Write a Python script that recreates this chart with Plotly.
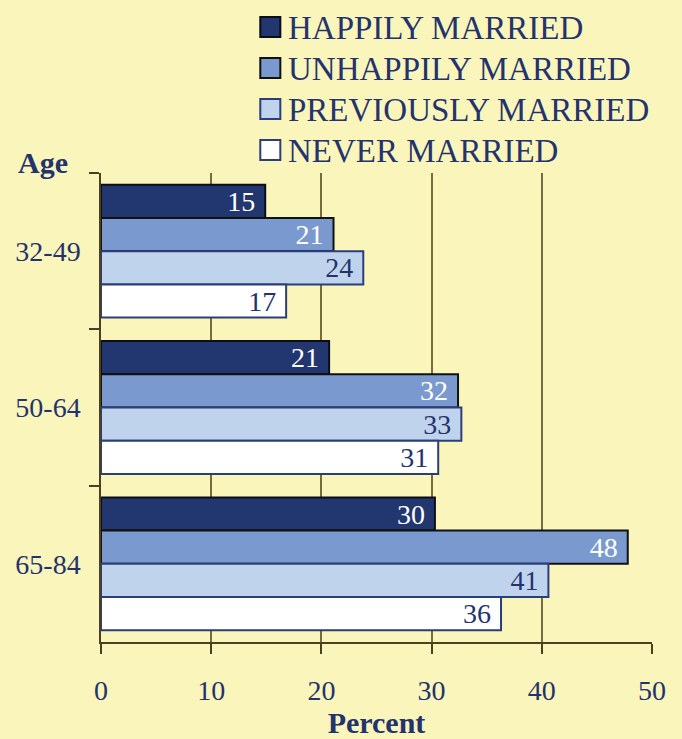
import plotly.graph_objects as go

ages = ["32-49", "50-64", "65-84"]
series_names = ["HAPPILY MARRIED", "UNHAPPILY MARRIED", "PREVIOUSLY MARRIED", "NEVER MARRIED"]
happily = [14.9, 20.7, 30.3]
unhappily = [21.1, 32.4, 47.8]
previously = [23.8, 32.7, 40.6]
never = [16.8, 30.6, 36.3]
x_ticks = [0, 10, 20, 30, 40, 50]

values = [happily, unhappily, previously, never]
fills = ["#22366f", "#7a9acf", "#bfd3ec", "#ffffff"]
edges = ["#0d0d1a", "#111111", "#2b3d7a", "#2b3d7a"]
text_colors = ["#ffffff", "#ffffff", "#24336e", "#24336e"]

NAVY = "#24336e"
FONT = "Liberation Serif"
BG = "#faf6bb"

fig = go.Figure()
for name, vals, fc, ec, tc in zip(series_names, values, fills, edges, text_colors):
    fig.add_trace(go.Bar(
        y=ages, x=vals, orientation="h", name=name, showlegend=False,
        marker=dict(color=fc, line=dict(color=ec, width=2)),
        texttemplate="%{x:.0f} ", textposition="inside", insidetextanchor="end",
        constraintext="none", textangle=0,
        textfont=dict(family=FONT, size=28, color=tc),
        hoverinfo="skip",
    ))

# Legend drawn as paper-positioned swatches + labels
PLOT_TOP, PLOT_H, PLOT_L, PLOT_W = 173, 469, 101, 550
shapes = []
annotations = []
for i, (name, fc, ec) in enumerate(zip(series_names, fills, edges)):
    cy = 27 + i * 41
    y0 = 1 + (PLOT_TOP - (cy + 10)) / PLOT_H
    y1 = 1 + (PLOT_TOP - (cy - 10)) / PLOT_H
    x0 = (260 - PLOT_L) / PLOT_W
    x1 = (280 - PLOT_L) / PLOT_W
    shapes.append(dict(type="rect", xref="paper", yref="paper", x0=x0, x1=x1, y0=y0, y1=y1,
                       fillcolor=fc, line=dict(color=ec, width=2)))
    annotations.append(dict(text=name, xref="paper", yref="paper",
                            x=(286 - PLOT_L) / PLOT_W, y=1 + (PLOT_TOP - (cy + 1)) / PLOT_H,
                            xanchor="left", yanchor="middle", showarrow=False,
                            font=dict(family=FONT, size=33, color=NAVY)))
annotations.append(dict(text="<b>Age</b>", xref="paper", yref="paper", x=(43 - PLOT_L) / PLOT_W,
                        y=1 + (PLOT_TOP - 163) / PLOT_H,
                        xanchor="center", yanchor="middle", showarrow=False,
                        font=dict(family=FONT, size=30, color=NAVY)))

fig.update_layout(
    width=682, height=739,
    paper_bgcolor=BG, plot_bgcolor=BG,
    margin=dict(l=101, r=30, t=173, b=97),
    barmode="group", bargap=0.15, bargroupgap=0,
    font=dict(family=FONT, color=NAVY),
    showlegend=False,
    xaxis=dict(range=[0, 50], tickvals=x_ticks, ticktext=[str(v) for v in x_ticks],
               automargin=False,
               showgrid=True, gridcolor="#7a6a40", gridwidth=1.5,
               showline=True, linecolor="#4d4020", linewidth=1.5,
               ticks="outside", ticklen=10, tickcolor="#4d4020", tickwidth=1.5,
               tickfont=dict(family=FONT, size=28, color=NAVY),
               ticklabelstandoff=13, zeroline=False,
               title=dict(text="<b>Percent</b>", font=dict(family=FONT, size=30, color=NAVY), standoff=4)),
    yaxis=dict(autorange="reversed", showgrid=False, automargin=False,
               showline=True, linecolor="#4d4020", linewidth=1.5,
               ticks="outside", tickson="boundaries", ticklen=10, tickcolor="#4d4020", tickwidth=1.5,
               tickfont=dict(family=FONT, size=28, color=NAVY),
               ticklabelstandoff=13),
    shapes=shapes,
    annotations=annotations,
)

fig.write_html("out.html", config={"displayModeBar": False},
               post_script="document.body.style.margin='0';document.body.style.background='%s';" % BG)
